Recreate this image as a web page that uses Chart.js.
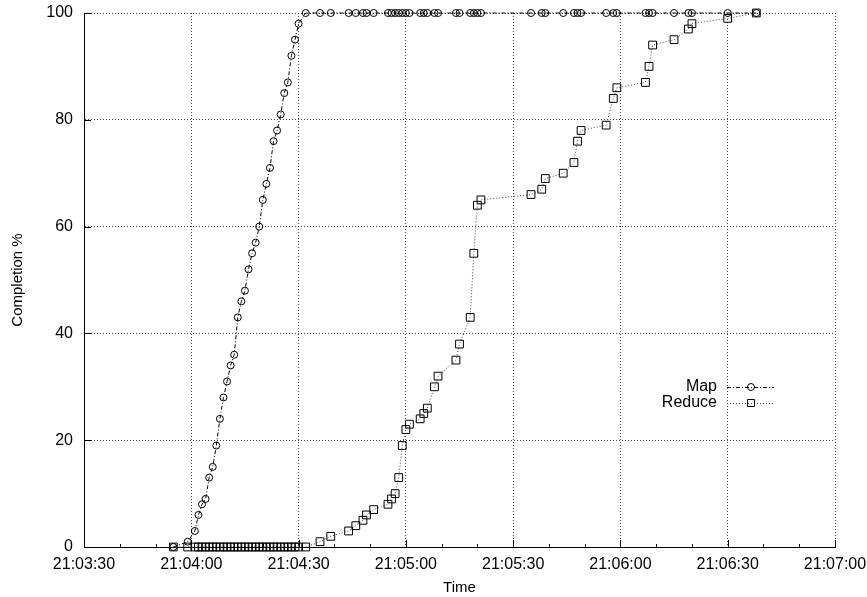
<!DOCTYPE html>
<html lang="en">

<head>
    <meta charset="UTF-8">
    <title>Map / Reduce completion</title>
    <style>
        body { margin: 0; background: #fff; }
    </style>
</head>

<body>
    <canvas id="myChart" width="867" height="597"></canvas>
    <script src="https://cdn.jsdelivr.net/npm/chart.js"></script>
    <script>
        // sample times (both series were logged at the same instants)
        const times = [
            '21:03:55', '21:03:59', '21:04:01', '21:04:02', '21:04:03', '21:04:04', '21:04:05',
            '21:04:06', '21:04:07', '21:04:08', '21:04:09', '21:04:10', '21:04:11', '21:04:12',
            '21:04:13', '21:04:14', '21:04:15', '21:04:16', '21:04:17', '21:04:18', '21:04:19',
            '21:04:20', '21:04:21', '21:04:22', '21:04:23', '21:04:24', '21:04:25', '21:04:26',
            '21:04:27', '21:04:28', '21:04:29', '21:04:30', '21:04:32', '21:04:36', '21:04:39',
            '21:04:44', '21:04:46', '21:04:48', '21:04:49', '21:04:51', '21:04:55', '21:04:56',
            '21:04:57', '21:04:58', '21:04:59', '21:05:00', '21:05:01', '21:05:04', '21:05:05',
            '21:05:06', '21:05:08', '21:05:09', '21:05:14', '21:05:15', '21:05:18', '21:05:19',
            '21:05:20', '21:05:21', '21:05:35', '21:05:38', '21:05:39', '21:05:44', '21:05:47',
            '21:05:48', '21:05:49', '21:05:56', '21:05:58', '21:05:59', '21:06:07', '21:06:08',
            '21:06:09', '21:06:15', '21:06:19', '21:06:20', '21:06:30', '21:06:38'
        ];

        const mapPct = [
            0, 1, 3, 6, 8, 9, 13, 15, 19, 24, 28, 31, 34, 36, 43, 46, 48, 52, 55, 57, 60,
            65, 68, 71, 76, 78, 81, 85, 87, 92, 95, 98, 100, 100, 100, 100, 100, 100, 100, 100,
            100, 100, 100, 100, 100, 100, 100, 100, 100, 100, 100, 100, 100, 100, 100, 100, 100, 100,
            100, 100, 100, 100, 100, 100, 100, 100, 100, 100, 100, 100, 100, 100, 100, 100, 100, 100
        ];

        const reducePct = [
            0, 0, 0, 0, 0, 0, 0, 0, 0, 0, 0, 0, 0, 0, 0, 0, 0, 0, 0, 0, 0,
            0, 0, 0, 0, 0, 0, 0, 0, 0, 0, 0, 0, 1, 2, 3, 4, 5, 6, 7,
            8, 9, 10, 13, 19, 22, 23, 24, 25, 26, 30, 32, 35, 38, 43, 55, 64, 65,
            66, 67, 69, 70, 72, 76, 78, 79, 84, 86, 87, 90, 94, 95, 97, 98, 99, 100
        ];

        const xRange = ['21:03:30', '21:07:00'];
        const yTicks = [0, 20, 40, 60, 80, 100];

        const FONT = "'Liberation Sans', Arial, sans-serif";

        function toSec(hms) {
            const [h, m, s] = hms.split(':').map(Number);
            return h * 3600 + m * 60 + s;
        }
        function fmt(sec) {
            const p = n => String(n).padStart(2, '0');
            return p(Math.floor(sec / 3600)) + ':' + p(Math.floor(sec / 60) % 60) + ':' + p(sec % 60);
        }

        const xMin = toSec(xRange[0]);
        const xMax = toSec(xRange[1]);
        const pts = vals => vals.map((v, i) => ({ x: toSec(times[i]), y: v }));

        // gnuplot-like inward ticks and the key in the right middle
        const gnuplotBits = {
            id: 'gnuplotBits',
            afterDraw(chart) {
                const { ctx, chartArea: a, scales: { x, y } } = chart;
                ctx.save();
                ctx.strokeStyle = '#000';
                ctx.lineWidth = 1;
                ctx.setLineDash([]);
                ctx.beginPath();
                for (let s = xMin; s <= xMax; s += 10) {
                    const px = Math.round(x.getPixelForValue(s)) + 0.5;
                    const len = (s - xMin) % 30 === 0 ? 7 : 3;
                    ctx.moveTo(px, a.bottom);
                    ctx.lineTo(px, a.bottom - len);
                }
                yTicks.forEach(v => {
                    const py = Math.round(y.getPixelForValue(v)) + 0.5;
                    ctx.moveTo(a.left, py);
                    ctx.lineTo(a.left + 7, py);
                });
                ctx.stroke();

                // key
                ctx.font = '16px ' + FONT;
                ctx.fillStyle = '#000';
                ctx.textAlign = 'right';
                ctx.textBaseline = 'middle';
                chart.data.datasets.forEach((ds, i) => {
                    const ky = a.top + 374 + i * 16;
                    ctx.fillText(ds.label, a.right - 118, ky);
                    ctx.strokeStyle = ds.borderColor;
                    ctx.setLineDash(ds.borderDash);
                    ctx.beginPath();
                    ctx.moveTo(a.right - 108, ky + 0.5);
                    ctx.lineTo(a.right - 61, ky + 0.5);
                    ctx.stroke();
                    ctx.setLineDash([]);
                    ctx.strokeStyle = '#000';
                    const mx = a.right - 84;
                    ctx.beginPath();
                    if (ds.pointStyle === 'rect') {
                        ctx.rect(mx - 3.5, ky - 3.5, 7, 7);
                    } else {
                        ctx.arc(mx, ky, ds.pointRadius, 0, Math.PI * 2);
                    }
                    ctx.stroke();
                    ctx.fillStyle = '#000';
                });
                ctx.restore();
            }
        };

        const ctx = document.getElementById('myChart').getContext('2d');
        const chart = new Chart(ctx, {
            type: 'line',
            data: {
                datasets: [{
                    label: 'Map',
                    data: pts(mapPct),
                    borderColor: '#000',
                    borderWidth: 1,
                    borderDash: [4, 2, 1, 2],
                    pointStyle: 'circle',
                    pointRadius: 3.5,
                    pointBorderColor: '#000',
                    pointBorderWidth: 1,
                    pointBackgroundColor: 'rgba(0,0,0,0)',
                    tension: 0,
                    clip: false,
                    order: 1
                }, {
                    label: 'Reduce',
                    data: pts(reducePct),
                    borderColor: '#444',
                    borderWidth: 1,
                    borderDash: [1, 2],
                    pointStyle: 'rect',
                    pointRadius: 5.5,
                    pointBorderColor: '#000',
                    pointBorderWidth: 1,
                    pointBackgroundColor: 'rgba(0,0,0,0)',
                    tension: 0,
                    clip: false,
                    order: 0
                }]
            },
            options: {
                responsive: false,
                animation: false,
                layout: { padding: { left: 0, right: 32, top: 13, bottom: 0 } },
                plugins: {
                    legend: { display: false },
                    tooltip: { enabled: false }
                },
                scales: {
                    x: {
                        type: 'linear',
                        min: xMin,
                        max: xMax,
                        grid: { color: '#444', lineWidth: 1, drawTicks: false },
                        border: { color: '#000', width: 1, dash: [1, 2] },
                        ticks: {
                            stepSize: 30,
                            padding: 8,
                            maxRotation: 0,
                            color: '#000',
                            font: { family: FONT, size: 16 },
                            callback: v => fmt(v)
                        },
                        title: {
                            display: true,
                            text: 'Time',
                            color: '#000',
                            font: { family: FONT, size: 15 },
                            padding: { top: 0, bottom: 0 }
                        },
                        afterFit(scale) {
                            scale.height = 50;
                            scale.paddingLeft = 0;
                            scale.paddingRight = 0;
                        }
                    },
                    y: {
                        min: 0,
                        max: 100,
                        grid: { color: '#444', lineWidth: 1, drawTicks: false },
                        border: { color: '#000', width: 1, dash: [1, 2] },
                        ticks: {
                            stepSize: 20,
                            padding: 11,
                            color: '#000',
                            font: { family: FONT, size: 16 }
                        },
                        title: {
                            display: true,
                            text: 'Completion %',
                            color: '#000',
                            font: { family: FONT, size: 15 },
                            padding: { top: 9, bottom: 0 }
                        },
                        afterFit(scale) {
                            scale.width = 84;
                            scale.paddingTop = 0;
                            scale.paddingBottom = 0;
                        }
                    }
                }
            },
            plugins: [gnuplotBits]
        });
    </script>
</body>

</html>
